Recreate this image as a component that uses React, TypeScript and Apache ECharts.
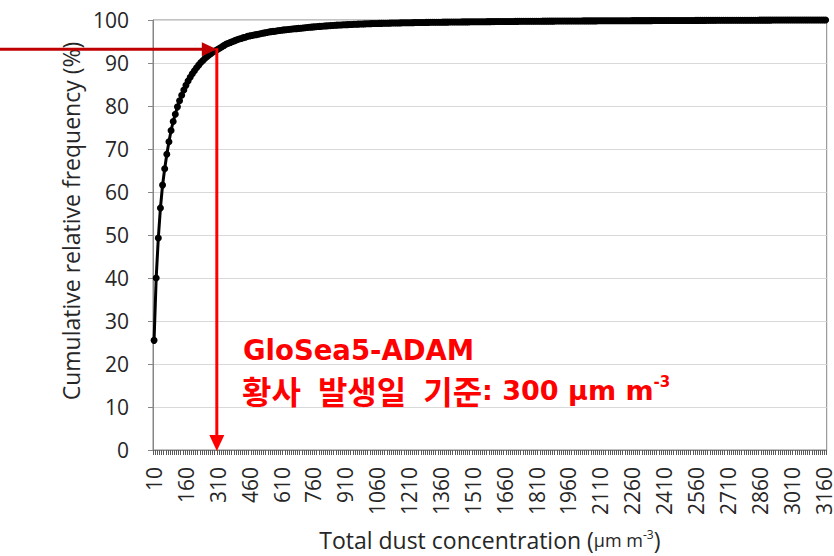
import React, { useEffect, useRef } from "react";
import * as echarts from "echarts";

// Category labels: total dust concentration bins (µg m-3), 10 .. 3170 step 10
const categories: number[] = Array.from({ length: 317 }, (_, i) => 10 + i * 10);

// Cumulative relative frequency (%)
const cumulative: number[] = [
  25.5, 40.0, 49.3, 56.3, 61.6, 65.4, 68.8, 71.7, 74.3, 76.4,
  78.1, 79.8, 81.2, 82.5, 83.7, 84.8, 85.8, 86.7, 87.5, 88.2,
  88.9, 89.5, 90.1, 90.6, 91.1, 91.5, 91.9, 92.3, 92.6, 92.9,
  93.2, 93.5, 93.8, 94.1, 94.4, 94.6, 94.8, 95.0, 95.2, 95.4,
  95.6, 95.7, 95.9, 96.0, 96.2, 96.3, 96.4, 96.5, 96.6, 96.7,
  96.8, 96.9, 97.0, 97.1, 97.2, 97.3, 97.35, 97.4, 97.5, 97.55,
  97.6, 97.7, 97.75, 97.8, 97.85, 97.9, 97.95, 98.0, 98.05, 98.1,
  98.15, 98.2, 98.25, 98.3, 98.35, 98.4, 98.45, 98.5, 98.52, 98.55,
  98.6, 98.63, 98.66, 98.7, 98.73, 98.76, 98.8, 98.82, 98.85, 98.88,
  98.9, 98.92, 98.95, 98.97, 99.0, 99.02, 99.04, 99.06, 99.08, 99.1,
  99.12, 99.14, 99.15, 99.17, 99.18, 99.2, 99.21, 99.22, 99.24, 99.25,
  99.26, 99.28, 99.29, 99.3, 99.31, 99.32, 99.33, 99.34, 99.35, 99.36,
  99.37, 99.38, 99.39, 99.4, 99.41, 99.42, 99.42, 99.43, 99.44, 99.45,
  99.46, 99.46, 99.47, 99.48, 99.49, 99.49, 99.5, 99.51, 99.51, 99.52,
  99.53, 99.53, 99.54, 99.54, 99.55, 99.56, 99.56, 99.57, 99.57, 99.58,
  99.58, 99.59, 99.59, 99.6, 99.6, 99.61, 99.61, 99.62, 99.62, 99.63,
  99.63, 99.64, 99.64, 99.65, 99.65, 99.66, 99.66, 99.67, 99.67, 99.67,
  99.68, 99.68, 99.69, 99.69, 99.69, 99.7, 99.7, 99.71, 99.71, 99.71,
  99.72, 99.72, 99.72, 99.73, 99.73, 99.73, 99.74, 99.74, 99.74, 99.75,
  99.75, 99.75, 99.76, 99.76, 99.76, 99.77, 99.77, 99.77, 99.78, 99.78,
  99.78, 99.78, 99.79, 99.79, 99.79, 99.8, 99.8, 99.8, 99.8, 99.81,
  99.81, 99.81, 99.81, 99.82, 99.82, 99.82, 99.82, 99.83, 99.83, 99.83,
  99.83, 99.84, 99.84, 99.84, 99.84, 99.85, 99.85, 99.85, 99.85, 99.85,
  99.86, 99.86, 99.86, 99.86, 99.86, 99.87, 99.87, 99.87, 99.87, 99.87,
  99.88, 99.88, 99.88, 99.88, 99.88, 99.89, 99.89, 99.89, 99.89, 99.89,
  99.9, 99.9, 99.9, 99.9, 99.9, 99.91, 99.91, 99.91, 99.91, 99.91,
  99.92, 99.92, 99.92, 99.92, 99.92, 99.93, 99.93, 99.93, 99.93, 99.93,
  99.94, 99.94, 99.94, 99.94, 99.94, 99.95, 99.95, 99.95, 99.95, 99.95,
  99.96, 99.96, 99.96, 99.96, 99.96, 99.97, 99.97, 99.97, 99.97, 99.97,
  99.97, 99.98, 99.98, 99.98, 99.98, 99.98, 99.98, 99.99, 99.99, 99.99,
  99.99, 99.99, 99.99, 99.99, 100, 100, 100, 100, 100, 100,
  100, 100, 100, 100, 100, 100, 100,
];

// Threshold annotation (category where the arrows meet)
const thresholdCategory = 310;
const annotationTitle = "GloSea5-ADAM";
const annotationWords = ["황사", "발생일", "기준"];
const annotationValue = ": 300 μm m";
const annotationSup = "-3";

const FONT = "'Open Sans', 'Noto Sans', sans-serif";
const KFONT = "'Noto Sans CJK KR', 'Noto Sans', sans-serif";
const LFONT = "'DejaVu Sans', 'Noto Sans CJK KR', sans-serif";

export default function App() {
  const ref = useRef<HTMLDivElement>(null);
  useEffect(() => {
    if (!ref.current) return;
    const chart = echarts.init(ref.current, null, { renderer: "svg" });
    const option: any = {
      animation: false,
      backgroundColor: "#ffffff",
      grid: {
        left: 153,
        right: 2,
        top: 20,
        bottom: 103,
        show: true,
        borderColor: "#868686",
        borderWidth: 1,
        backgroundColor: "transparent",
      },
      xAxis: {
        type: "category",
        data: categories.map(String),
        boundaryGap: true,
        name: "{a|Total dust concentration (}{u|μm m}{s|-3}{a|)}",
        nameLocation: "middle",
        nameGap: 78,
        nameTextStyle: {
          rich: {
            a: { fontFamily: FONT, fontSize: 23, color: "#262626" },
            u: { fontFamily: FONT, fontSize: 18, color: "#262626" },
            s: { fontFamily: FONT, fontSize: 12, color: "#262626", verticalAlign: "top", padding: [0, 0, 8, 0] },
          },
        },
        axisLine: { show: true, lineStyle: { color: "#868686", width: 1 } },
        axisTick: { show: true, interval: 0, length: 5, lineStyle: { color: "#595959", width: 1 } },
        axisLabel: {
          interval: 14,
          rotate: 90,
          margin: 17,
          fontFamily: FONT,
          fontSize: 21,
          color: "#262626",
        },
        splitLine: { show: false },
      },
      yAxis: {
        type: "value",
        min: 0,
        max: 100,
        interval: 10,
        name: "Cumulative relative frequency (%)",
        nameLocation: "middle",
        nameGap: 71,
        nameTextStyle: {
          fontFamily: FONT,
          fontSize: 23,
          color: "#262626",
          padding: [0, 0, 0, 28],
        },
        axisLine: { show: true, lineStyle: { color: "#868686", width: 1 } },
        axisTick: { show: true, length: 5, lineStyle: { color: "#868686" } },
        axisLabel: { margin: 24, fontFamily: FONT, fontSize: 21, color: "#262626" },
        splitLine: { show: true, lineStyle: { color: "#d9d9d9", width: 1 } },
      },
      series: [
        {
          type: "line",
          data: cumulative,
          showSymbol: true,
          showAllSymbol: true,
          symbol: "circle",
          symbolSize: 7,
          itemStyle: { color: "#000000" },
          lineStyle: { color: "#000000", width: 3 },
          z: 3,
        },
      ],
    };
    chart.setOption(option);

    const idx = categories.indexOf(thresholdCategory);
    const [px, py] = chart.convertToPixel({ gridIndex: 0 }, [idx, cumulative[idx]]) as number[];
    const [, y0] = chart.convertToPixel({ gridIndex: 0 }, [idx, 0]) as number[];
    const hx = px - 1;
    const red = "#ff0000";
    const line2 =
      annotationWords.map((w) => `{k|${w}}`).join("{sp| }") +
      `{l|${annotationValue}}{s|${annotationSup}}`;
    chart.setOption({
      graphic: [
        {
          type: "line",
          shape: { x1: 0, y1: py, x2: hx - 13, y2: py },
          style: { stroke: "#c00000", lineWidth: 3 },
          z: 100,
        },
        {
          type: "polygon",
          shape: { points: [[hx - 15, py - 7], [hx, py], [hx - 15, py + 7]] },
          style: { fill: "#c00000" },
          z: 100,
        },
        {
          type: "line",
          shape: { x1: hx, y1: py - 1, x2: hx, y2: y0 - 13 },
          style: { stroke: red, lineWidth: 3 },
          z: 100,
        },
        {
          type: "polygon",
          shape: { points: [[hx - 7.5, y0 - 15], [hx, y0 + 1], [hx + 7.5, y0 - 15]] },
          style: { fill: red },
          z: 100,
        },
        {
          type: "text",
          x: 243,
          y: 350,
          style: {
            text: annotationTitle,
            fill: red,
            font: `bold 27.5px ${LFONT}`,
            verticalAlign: "middle",
          },
          z: 100,
        },
        {
          type: "text",
          x: 242,
          y: 390,
          style: {
            text: line2,
            verticalAlign: "middle",
            rich: {
              k: { fill: red, color: red, fontFamily: KFONT, fontWeight: "bold", fontSize: 32 },
              sp: { fill: red, color: red, fontFamily: KFONT, fontSize: 32, width: 17 },
              l: { fill: red, color: red, fontFamily: LFONT, fontWeight: "bold", fontSize: 27 },
              s: { fill: red, color: red, fontFamily: LFONT, fontWeight: "bold", fontSize: 15, verticalAlign: "top", padding: [0, 0, 15, 0] },
            },
          },
          z: 100,
        },
      ],
    });
    return () => chart.dispose();
  }, []);
  return (
    <div
      ref={ref}
      style={{ position: "absolute", left: 0, top: 0, width: 834, height: 556 }}
    />
  );
}
